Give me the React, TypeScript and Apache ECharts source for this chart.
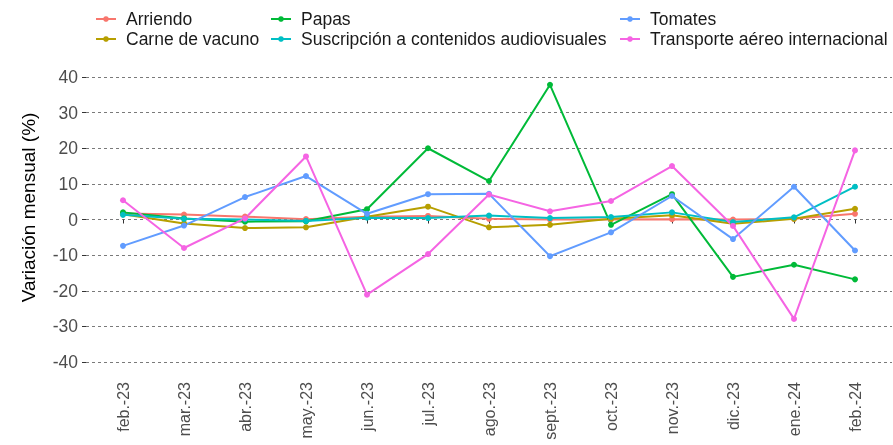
import React, { useEffect, useRef } from "react";
import * as echarts from "echarts";

const categories = ["feb.-23", "mar.-23", "abr.-23", "may.-23", "jun.-23", "jul.-23", "ago.-23", "sept.-23", "oct.-23", "nov.-23", "dic.-23", "ene.-24", "feb.-24"];
const arriendo = [1.7, 1.4, 0.8, 0.1, 0.8, 1.0, 0.2, 0.0, 0.0, 0.1, 0.0, 0.2, 1.6];
const carne = [1.5, -1.1, -2.4, -2.2, 0.8, 3.6, -2.2, -1.5, 0.2, 1.2, -1.2, 0.2, 3.0];
const papas = [2.0, 0.3, -0.6, -0.5, 2.9, 20.0, 10.8, 37.8, -1.5, 7.1, -16.1, -12.7, -16.8];
const suscripcion = [1.3, 0.2, 0.0, -0.4, 0.5, 0.4, 1.1, 0.4, 0.7, 2.0, -0.7, 0.6, 9.2];
const tomates = [-7.4, -1.7, 6.3, 12.2, 1.6, 7.1, 7.2, -10.3, -3.6, 6.6, -5.5, 9.2, -8.7];
const transporte = [5.4, -8.0, 0.3, 17.7, -21.1, -9.7, 7.0, 2.3, 5.2, 15.0, -1.8, -27.9, 19.4];

const seriesNames = ["Arriendo", "Carne de vacuno", "Papas", "Suscripción a contenidos audiovisuales", "Tomates", "Transporte aéreo internacional"];
const seriesData = [arriendo, carne, papas, suscripcion, tomates, transporte];
const colors = ["#F8766D", "#B79F00", "#00BA38", "#00BFC4", "#619CFF", "#F564E3"];

const yMin = -40;
const yMax = 40;
const yInterval = 10;

const FONT = "'Liberation Sans', Arial, sans-serif";

export default function App() {
  const ref = useRef<HTMLDivElement>(null);
  useEffect(() => {
    if (!ref.current) return;
    const chart = echarts.init(ref.current, undefined, { renderer: "svg" });
    const legendBase = {
      orient: "vertical",
      top: 5,
      itemWidth: 20,
      itemHeight: 7,
      itemGap: 2,
      textStyle: { fontFamily: FONT, fontSize: 17.5, color: "#1a1a1a", lineHeight: 17, padding: [0, 0, 0, 5] },
    };
    chart.setOption({
      animation: false,
      color: colors,
      textStyle: { fontFamily: FONT },
      legend: [
        { ...legendBase, left: 90, data: [seriesNames[0], seriesNames[1]] },
        { ...legendBase, left: 265, data: [seriesNames[2], seriesNames[3]] },
        { ...legendBase, left: 614, data: [seriesNames[4], seriesNames[5]] },
      ],
      grid: [
        { left: 86, right: 1, top: 77, bottom: 83, containLabel: false, outerBoundsMode: "none" },
        { left: 123, right: 38, top: 77, bottom: 83, containLabel: false, outerBoundsMode: "none" },
      ],
      xAxis: [
        { type: "value", gridIndex: 0, show: false, min: 0, max: 1 },
        {
          type: "category",
          gridIndex: 1,
          data: categories,
          boundaryGap: false,
          offset: 14,
          axisLine: { show: false },
          axisTick: { show: true, length: 4, lineStyle: { color: "#333333" } },
          axisLabel: { rotate: 90, margin: 6, fontSize: 16, color: "#4D4D4D", fontFamily: FONT, interval: 0 },
          splitLine: { show: false },
        },
      ],
      yAxis: [
        {
          type: "value",
          gridIndex: 0,
          min: yMin,
          max: yMax,
          interval: yInterval,
          name: "Variación mensual (%)",
          nameLocation: "middle",
          nameGap: 48,
          nameTextStyle: { fontSize: 19, color: "#000000", fontFamily: FONT, padding: [0, 0, 0, 24] },
          axisLine: { show: false },
          axisTick: { show: true, length: 4, lineStyle: { color: "#333333" } },
          axisLabel: { margin: 8, fontSize: 17.5, color: "#4D4D4D", fontFamily: FONT },
          splitLine: { show: true, lineStyle: { color: "#7a7a7a", width: 1, type: [3, 3] } },
        },
        {
          type: "value",
          gridIndex: 1,
          min: yMin,
          max: yMax,
          interval: yInterval,
          show: false,
          splitLine: { show: false },
        },
      ],
      series: seriesNames.map((name, i) => ({
        name,
        type: "line",
        xAxisIndex: 1,
        yAxisIndex: 1,
        data: seriesData[i],
        symbol: "circle",
        symbolSize: 6,
        lineStyle: { width: 2, color: colors[i] },
        itemStyle: { color: colors[i] },
      })),
    });
    return () => chart.dispose();
  }, []);
  return <div ref={ref} style={{ position: "fixed", left: 0, top: 0, width: 893, height: 445 }} />;
}
